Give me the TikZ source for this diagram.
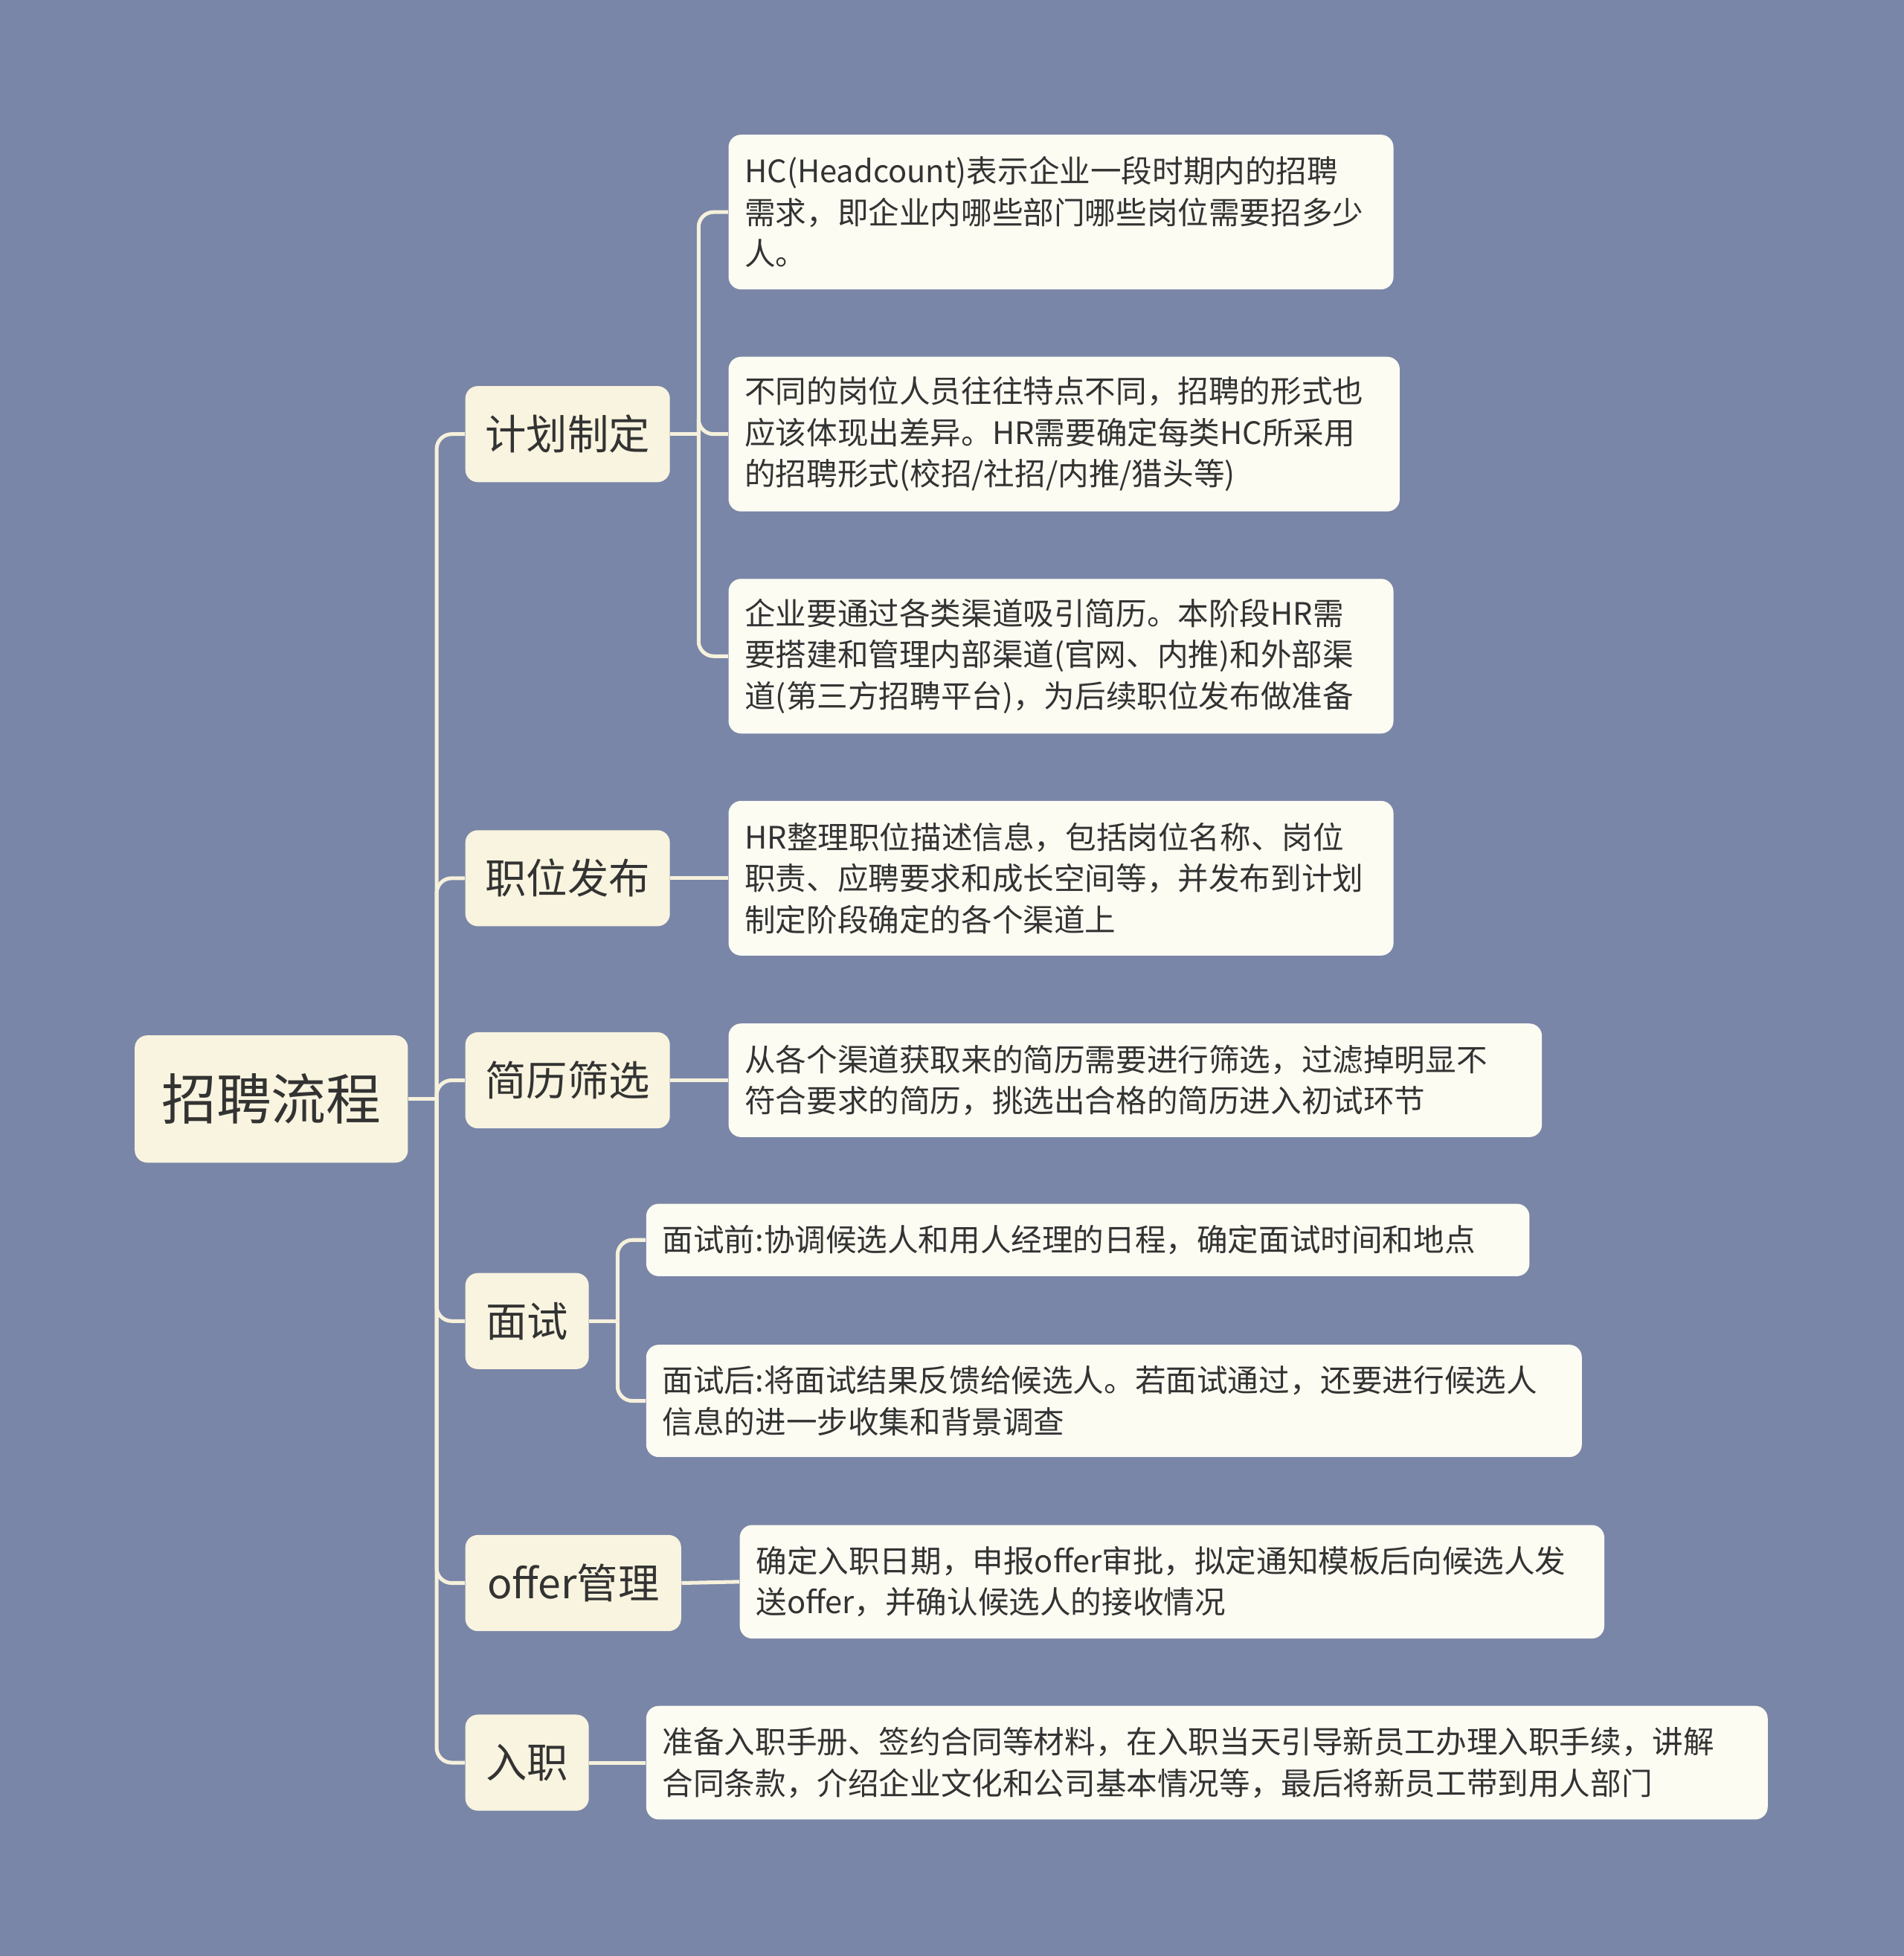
\documentclass[tikz,border=0pt]{standalone}
\usepackage{fontspec}
\setmainfont{Noto Sans CJK SC}
\begin{document}
\begin{tikzpicture}[x=0.5pt,y=-0.5pt,
  conn/.style={draw=lncol,line width=1.5pt,rounded corners=6pt},
  leaf/.style={fill=leafcol,rounded corners=5pt,align=left,inner xsep=6.5pt,inner ysep=0pt,font=\fontsize{12.4}{16.5}\selectfont,text=txt},
  mainn/.style={fill=maincol,rounded corners=5pt,inner sep=0pt,font=\fontsize{16.5}{20}\selectfont,text=txt,minimum height=38.5pt},
]
\definecolor{bg}{HTML}{7A86A7}
\definecolor{leafcol}{HTML}{FDFCF3}
\definecolor{maincol}{HTML}{F8F4DF}
\definecolor{lncol}{HTML}{F6F1DC}
\definecolor{txt}{HTML}{333333}
\fill[bg] (0,0) rectangle (1526,1568);
\node[mainn,minimum width=109.5pt,minimum height=51pt,font=\fontsize{22}{26}\selectfont] (root) at (217.5,881) {招聘流程};
\node[mainn,minimum width=82pt] (m1) at (455,348) {计划制定};
\node[mainn,minimum width=82pt] (m2) at (455,704) {职位发布};
\node[mainn,minimum width=82pt] (m3) at (455,866) {简历筛选};
\node[mainn,minimum width=49.5pt] (m4) at (422.5,1059) {面试};
\node[mainn,minimum width=86.5pt] (m5) at (459.5,1269) {offer管理};
\node[mainn,minimum width=49.5pt] (m6) at (422.5,1413) {入职};
\node[leaf,text width=253.5pt,minimum height=62pt] (l1) at (850.5,170) {HC(Headcount)表示企业一段时期内的招聘\\需求，即企业内哪些部门哪些岗位需要招多少\\人。};
\node[leaf,text width=256pt,minimum height=62pt] (l2) at (853,348) {不同的岗位人员往往特点不同，招聘的形式也\\应该体现出差异。HR需要确定每类HC所采用\\的招聘形式(校招/社招/内推/猎头等)};
\node[leaf,text width=253.5pt,minimum height=62pt] (l3) at (850.5,526) {企业要通过各类渠道吸引简历。本阶段HR需\\要搭建和管理内部渠道(官网、内推)和外部渠\\道(第三方招聘平台)，为后续职位发布做准备};
\node[leaf,text width=253.5pt,minimum height=62pt] (l4) at (850.5,704) {HR整理职位描述信息，包括岗位名称、岗位\\职责、应聘要求和成长空间等，并发布到计划\\制定阶段确定的各个渠道上};
\node[leaf,text width=313pt,minimum height=45.5pt] (l5) at (910,866) {从各个渠道获取来的简历需要进行筛选，过滤掉明显不\\符合要求的简历，挑选出合格的简历进入初试环节};
\node[leaf,text width=341pt,minimum height=29pt] (l6) at (872,994) {面试前:协调候选人和用人经理的日程，确定面试时间和地点};
\node[leaf,text width=362pt,minimum height=45pt] (l7) at (893,1123) {面试后:将面试结果反馈给候选人。若面试通过，还要进行候选人\\信息的进一步收集和背景调查};
\node[leaf,text width=333.5pt,minimum height=45.5pt] (l8) at (939.5,1268) {确定入职日期，申报offer审批，拟定通知模板后向候选人发\\送offer，并确认候选人的接收情况};
\node[leaf,text width=436.5pt,minimum height=45.5pt] (l9) at (967.5,1413) {准备入职手册、签约合同等材料，在入职当天引导新员工办理入职手续，讲解\\合同条款，介绍企业文化和公司基本情况等，最后将新员工带到用人部门};
\coordinate (tr) at (350,881);
\draw[conn] (root.east) -- (tr);
\foreach \m in {m1,m2,m3,m4,m5,m6} \draw[conn] (tr) |- (\m.west);
\coordinate (b1) at (560,348);
\draw[conn] (m1.east) -- (b1);
\foreach \l in {l1,l2,l3} \draw[conn] (b1) |- (\l.west);
\draw[conn] (m2.east) -- (l4.west);
\draw[conn] (m3.east) -- (l5.west);
\coordinate (b4) at (495,1059);
\draw[conn] (m4.east) -- (b4);
\foreach \l in {l6,l7} \draw[conn] (b4) |- (\l.west);
\draw[conn] (m5.east) -- (l8.west);
\draw[conn] (m6.east) -- (l9.west);
\end{tikzpicture}
\end{document}
